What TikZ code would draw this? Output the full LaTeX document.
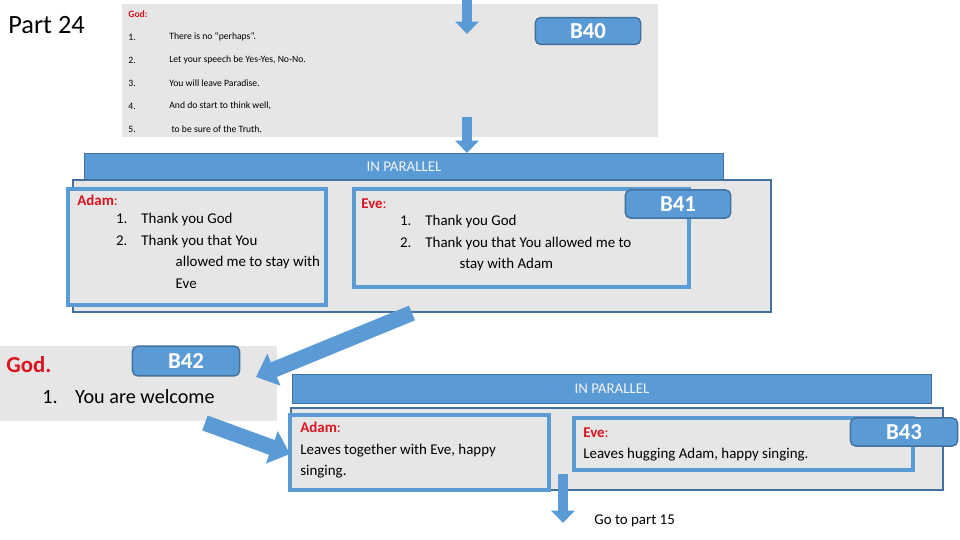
\documentclass[tikz,border=0pt]{standalone}
\usepackage{fontspec}
\setmainfont{Carlito}
\definecolor{bblue}{HTML}{5B9BD5}
\definecolor{bedge}{HTML}{41719C}
\definecolor{pgray}{HTML}{E6E6E6}
\definecolor{rtxt}{HTML}{D9141E}
\tikzset{
  panel/.style={fill=pgray},
  frame/.style={draw=bblue,line width=2pt,fill=pgray},
  outer/.style={draw=bedge,line width=0.8pt,fill=pgray},
  bar/.style={fill=bblue,draw=bedge,line width=0.6pt},
  tag/.style={draw=bedge,fill=bblue,rounded corners=3pt,line width=0.8pt,text=white,font=\bfseries\fontsize{13}{13}\selectfont},
  txt/.style={anchor=north west,inner sep=0pt,align=left,font=\fontsize{8.5}{12.2}\selectfont},
  who/.style={text=rtxt,font=\bfseries\fontsize{8.5}{10}\selectfont},
  barrow/.style={line width=5.7pt,draw=bblue,-{Triangle[length=7pt,width=13pt]}},
  warrow/.style={line width=9pt,draw=bblue,-{Triangle[length=11pt,width=19pt]}},
}
\usetikzlibrary{arrows.meta}
\begin{document}
\begin{tikzpicture}[x=0.02cm,y=-0.02cm]
\useasboundingbox (0,0) rectangle (960,540);
% B40
\node[anchor=west,inner sep=0pt,font=\fontsize{15}{15}\selectfont] (part) at (8,25) {Part 24};
\fill[panel] (122,4) rectangle (658,137);
\node[anchor=west,inner sep=0pt,text=rtxt,font=\bfseries\fontsize{5.5}{6}\selectfont] (god) at (128,14) {God:};
\foreach \n/\t [count=\i] in {1./There is no ``perhaps''.,2./{Let your speech be Yes-Yes, No-No.},3./You will leave Paradise.,4./{And do start to think well,},5./{\ to be sure of the Truth.}}{
  \node[anchor=west,inner sep=0pt,font=\fontsize{5.5}{6}\selectfont] at (128,14+23*\i) {\n};
  \node[anchor=west,inner sep=0pt,font=\fontsize{5.5}{6}\selectfont] at (169,14+23*\i) {\t};
}
\node[tag,minimum width=60pt,minimum height=15pt] (b40) at (588,31) {B40};
\coordinate (in0) at (467,0);
\coordinate (in1) at (467,34);
\draw[barrow] (in0) -- (in1);
% B41
\node[bar,minimum width=364pt,minimum height=15pt,inner sep=0pt] (par1) at (404,167) {};
\node[text=white!95!black,font=\fontsize{8.5}{9}\selectfont] at (par1) {IN PARALLEL};
\coordinate (o1) at (467,117);
\coordinate (o2) at (467,153);
\draw[barrow] (o1) -- (o2);
\draw[outer] (73,180) rectangle (771,312);
\draw[frame] (68,189) rectangle (326,305);
\node[txt] (adam) at (77,195) {\textcolor{rtxt}{\textbf{Adam}:}\\[-2pt]
  \hspace{22pt}1.\hspace{8pt}Thank you God\\
  \hspace{22pt}2.\hspace{8pt}Thank you that You\\
  \hspace{56pt}allowed me to stay with\\
  \hspace{56pt}Eve};
\draw[frame] (354,189) rectangle (689,287);
\node[txt] (eve) at (361,198) {\textcolor{rtxt}{\textbf{Eve}:}\\[-2pt]
  \hspace{22pt}1.\hspace{8pt}Thank you God\\
  \hspace{22pt}2.\hspace{8pt}Thank you that You allowed me to\\
  \hspace{56pt}stay with Adam};
\node[tag,minimum width=60pt,minimum height=16pt] (b41) at (678,204) {B41};
% B42
\fill[panel] (0,346) rectangle (277,421);
\node[anchor=west,inner sep=0pt,text=rtxt,font=\bfseries\fontsize{13}{13}\selectfont] (god2) at (6,365) {God.};
\node[tag,minimum width=61pt,minimum height=17pt] (b42) at (186,361) {B42};
\node[anchor=west,inner sep=0pt,font=\fontsize{11.5}{12}\selectfont] (welcome) at (42,397) {1.\hspace{10pt}You are welcome};
\coordinate (d1) at (412,313);
\coordinate (d2) at (256,377);
\draw[warrow] (d1) -- (d2);
% B43
\node[bar,minimum width=364pt,minimum height=17pt,inner sep=0pt] (par2) at (612,389) {};
\node[text=white!95!black,font=\fontsize{8.5}{9}\selectfont] at (par2) {IN PARALLEL};
\coordinate (e1) at (205,423);
\coordinate (e2) at (290,454);
\draw[warrow] (e1) -- (e2);
\draw[outer] (291,408) rectangle (943,490);
\draw[frame] (290,415) rectangle (549,490);
\node[txt] (adam2) at (300,422) {\textcolor{rtxt}{\textbf{Adam}:}\\Leaves together with Eve, happy\\singing.};
\draw[frame] (574,418) rectangle (913,470);
\node[txt] (eve2) at (583,427) {\textcolor{rtxt}{\textbf{Eve}:}\\Leaves hugging Adam, happy singing.};
\node[tag,minimum width=61pt,minimum height=16pt] (b43) at (904,432) {B43};
\coordinate (g1) at (563,474);
\coordinate (g2) at (563,523);
\draw[barrow] (g1) -- (g2);
\node[anchor=west,inner sep=0pt,font=\fontsize{8.5}{9}\selectfont] (goto) at (594,521) {Go to part 15};
\end{tikzpicture}
\end{document}
